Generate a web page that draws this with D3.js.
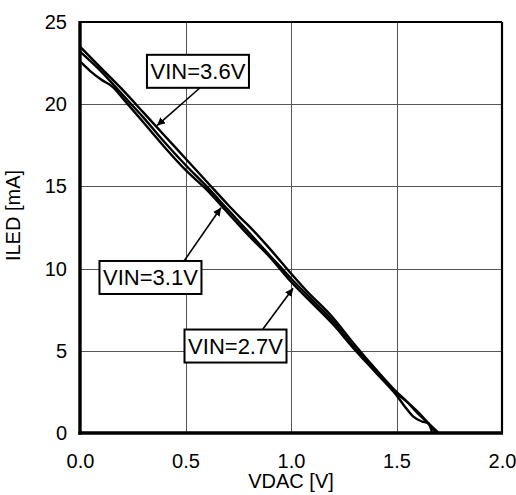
<!DOCTYPE html>
<html>
<head>
<meta charset="utf-8">
<script src="https://cdnjs.cloudflare.com/ajax/libs/d3/7.8.5/d3.min.js"></script>
<style>
  body { margin: 0; background: #fff; }
  text { font-family: "Liberation Sans", Arial, sans-serif; fill: #000; }
</style>
</head>
<body>
<div id="chart"></div>
<script>
// tick values
var xTicks = [0, 0.5, 1.0, 1.5, 2.0];
var yTicks = [0, 5, 10, 15, 20, 25];

// VDAC [V] vs ILED [mA]
var vin36 = [
    [0, 23.5], [0.1, 22.2], [0.2, 20.9], [0.3, 19.5], [0.4, 18.1], [0.5, 16.7],
    [0.6, 15.3], [0.7, 13.9], [0.76, 13.1], [0.8, 12.6], [0.9, 11.2], [1.0, 9.7],
    [1.07, 8.7], [1.2, 7.0], [1.3, 5.4], [1.4, 3.9], [1.5, 2.5], [1.55, 1.9],
    [1.6, 1.2], [1.65, 0.6], [1.7, 0]
];
var vin31 = [
    [0, 23.2], [0.1, 22.0], [0.2, 20.6], [0.3, 19.2], [0.4, 17.7], [0.5, 16.3],
    [0.6, 15.0], [0.7, 13.6], [0.8, 12.2], [0.9, 10.8], [1.0, 9.4], [1.1, 8.1],
    [1.2, 6.8], [1.3, 5.2], [1.4, 3.8], [1.5, 2.4], [1.54, 2.0], [1.6, 1.3],
    [1.65, 0.6], [1.69, 0]
];
var vin27 = [
    [0, 22.6], [0.05, 22.0], [0.1, 21.5], [0.16, 21.0], [0.2, 20.4], [0.3, 18.9],
    [0.4, 17.4], [0.5, 16.0], [0.6, 14.8], [0.7, 13.4], [0.8, 12.0], [0.9, 10.7],
    [1.0, 9.2], [1.1, 7.9], [1.2, 6.6], [1.3, 5.1], [1.4, 3.7], [1.5, 2.3],
    [1.54, 1.6], [1.58, 1.0], [1.62, 0.7], [1.65, 0.6], [1.67, 0]
];

var series = [vin36, vin31, vin27];
var labels = ["VIN=3.6V", "VIN=3.1V", "VIN=2.7V"];

// where each label box sits and where its arrow points (data units)
var labelAt = [
    {cx: 0.559, cy: 22.0, sx: 0.569, sy: 21.0, tx: 0.365, ty: 18.7},
    {cx: 0.334, cy: 9.46, sx: 0.493, sy: 10.46, tx: 0.668, ty: 13.7},
    {cx: 0.737, cy: 5.29, sx: 0.867, sy: 6.33, tx: 1.01, ty: 8.8}
];

var margin = {top: 22, right: 14, bottom: 62, left: 80},
    width = 516 - margin.left - margin.right,
    height = 495 - margin.top - margin.bottom;

var svg = d3.select("#chart")
  .append("svg")
    .attr("width", 516)
    .attr("height", 495)
  .append("g")
    .attr("transform", "translate(" + margin.left + "," + margin.top + ")");

var x = d3.scaleLinear().domain([0, 2]).range([0, width]);
var y = d3.scaleLinear().domain([0, 25]).range([height, 0]);

// grid
svg.append("g")
  .selectAll("line")
  .data(xTicks.slice(1, -1))
  .enter().append("line")
    .attr("x1", function(d) { return Math.round(x(d)) + 0.5; })
    .attr("x2", function(d) { return Math.round(x(d)) + 0.5; })
    .attr("y1", 0)
    .attr("y2", height)
    .attr("stroke", "#555")
    .attr("stroke-width", 1);
svg.append("g")
  .selectAll("line")
  .data(yTicks.slice(1, -1))
  .enter().append("line")
    .attr("x1", 0)
    .attr("x2", width)
    .attr("y1", function(d) { return Math.round(y(d)) + 0.5; })
    .attr("y2", function(d) { return Math.round(y(d)) + 0.5; })
    .attr("stroke", "#555")
    .attr("stroke-width", 1);

// axes (labels only, frame drawn below)
var xAxis = svg.append("g")
    .attr("transform", "translate(0," + height + ")")
    .call(d3.axisBottom(x).tickValues(xTicks).tickFormat(d3.format(".1f")).tickSize(0).tickPadding(21));
var yAxis = svg.append("g")
    .call(d3.axisLeft(y).tickValues(yTicks).tickSize(0).tickPadding(13));
[xAxis, yAxis].forEach(function(a) {
  a.select(".domain").remove();
  a.selectAll("text").attr("font-size", 20).attr("fill", "#000")
    .style("font-family", "'Liberation Sans', Arial, sans-serif");
});

// curves
var line = d3.line()
    .x(function(d) { return x(d[0]); })
    .y(function(d) { return y(d[1]); })
    .curve(d3.curveMonotoneX);

svg.selectAll(".curve")
  .data(series)
  .enter().append("path")
    .attr("class", "curve")
    .attr("d", line)
    .attr("fill", "none")
    .attr("stroke", "#000")
    .attr("stroke-width", 2.4);

// frame
svg.append("line").attr("x1", 0).attr("x2", width).attr("y1", 0).attr("y2", 0)
    .attr("stroke", "#000").attr("stroke-width", 2);
svg.append("line").attr("x1", width).attr("x2", width).attr("y1", 0).attr("y2", height)
    .attr("stroke", "#000").attr("stroke-width", 2.2);
svg.append("line").attr("x1", 0).attr("x2", 0).attr("y1", -1).attr("y2", height + 1.7)
    .attr("stroke", "#000").attr("stroke-width", 3.4);
svg.append("line").attr("x1", -1.7).attr("x2", width + 1).attr("y1", height).attr("y2", height)
    .attr("stroke", "#000").attr("stroke-width", 3.4);

// arrowhead
svg.append("defs").append("marker")
    .attr("id", "arr")
    .attr("viewBox", "0 0 10 10")
    .attr("refX", 10).attr("refY", 5)
    .attr("markerWidth", 8).attr("markerHeight", 8)
    .attr("markerUnits", "userSpaceOnUse")
    .attr("orient", "auto")
  .append("path")
    .attr("d", "M0,0 L10,5 L0,10 z")
    .attr("fill", "#000");

// label boxes and arrows
var ann = svg.selectAll(".ann")
  .data(labels)
  .enter().append("g")
    .attr("class", "ann");

ann.append("line")
    .attr("x1", function(d, i) { return x(labelAt[i].sx); })
    .attr("y1", function(d, i) { return y(labelAt[i].sy); })
    .attr("x2", function(d, i) { return x(labelAt[i].tx); })
    .attr("y2", function(d, i) { return y(labelAt[i].ty); })
    .attr("stroke", "#000")
    .attr("stroke-width", 1.6)
    .attr("marker-end", "url(#arr)");

ann.append("rect")
    .attr("x", function(d, i) { return x(labelAt[i].cx) - 51; })
    .attr("y", function(d, i) { return y(labelAt[i].cy) - 16.5; })
    .attr("width", 102)
    .attr("height", 33)
    .attr("fill", "#fff")
    .attr("stroke", "#000")
    .attr("stroke-width", 2);

ann.append("text")
    .attr("x", function(d, i) { return x(labelAt[i].cx); })
    .attr("y", function(d, i) { return y(labelAt[i].cy) + 8; })
    .attr("text-anchor", "middle")
    .attr("font-size", 22)
    .text(function(d) { return d; });

// axis titles
svg.append("text")
    .attr("x", width / 2)
    .attr("y", height + 55)
    .attr("text-anchor", "middle")
    .attr("font-size", 20)
    .text("VDAC [V]");

svg.append("text")
    .attr("transform", "translate(" + (-60) + "," + (height / 2 - 12) + ") rotate(-90)")
    .attr("text-anchor", "middle")
    .attr("font-size", 20)
    .text("ILED [mA]");
</script>
</body>
</html>
